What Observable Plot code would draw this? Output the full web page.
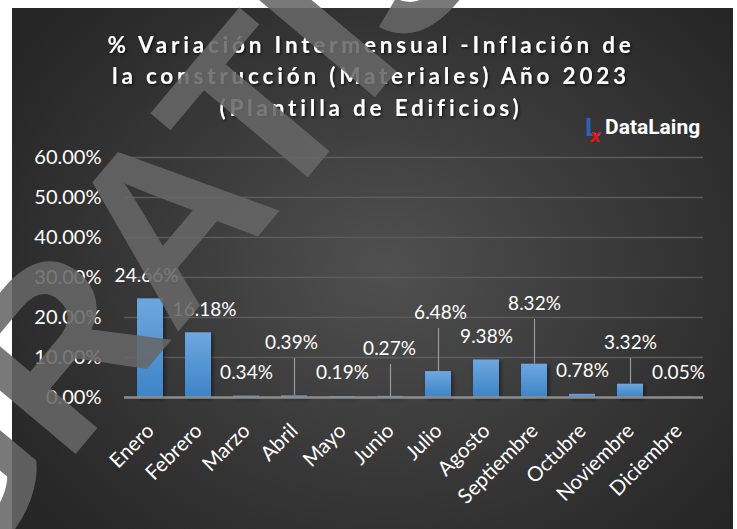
<!DOCTYPE html>
<html>
<head>
<meta charset="utf-8">
<script src="https://cdn.jsdelivr.net/npm/d3@7"></script>
<script src="https://cdn.jsdelivr.net/npm/@observablehq/plot@0.6"></script>
<style>
  html, body { margin: 0; padding: 0; background: #ffffff; }
  #wrap { position: relative; width: 737px; height: 529px; overflow: hidden; background: #ffffff; }
  #panel { position: absolute; left: 12px; top: 8px; width: 721px; height: 521px;
    background: radial-gradient(ellipse 62% 72% at 52% 50%, #505050 0%, #3c3c3c 45%, #262626 100%); }
  #chart { position: absolute; left: 0; top: 0; }
</style>
</head>
<body>
<div id="wrap"><div id="panel"></div><div id="chart"></div></div>
<script>
// ---- data ----
const months = ["Enero","Febrero","Marzo","Abril","Mayo","Junio","Julio","Agosto","Septiembre","Octubre","Noviembre","Diciembre"];
const values = [24.66, 16.18, 0.34, 0.39, 0.19, 0.27, 6.48, 9.38, 8.32, 0.78, 3.32, 0.05];
// data-label placement (in % units of the y axis) and horizontal nudge
const labelY = [30.5, 22, 6.25, 13.75, 6.25, 12.25, 21.25, 15.25, 23.5, 6.75, 13.75, 6.25];
const labelDx = [-4, 6, 0, -3, 0, -1, 2, 0, 0, 0, 0, 0];
const yTicks = [0, 10, 20, 30, 40, 50, 60];
const titleLines = ["% Variación Intermensual -Inflación de", "la construcción (Materiales) Año 2023", "(Plantilla de Edificios)"];

const data = months.map((m, i) => ({month: m, value: values[i], labelY: labelY[i], dx: labelDx[i]}));
const leaders = data.filter(d => d.labelY - d.value > 8);
const fmt = v => v.toFixed(2) + "%";
const FONT = "Lato, 'Open Sans', sans-serif";

const plot = Plot.plot({
  width: 737,
  height: 529,
  marginLeft: 124,
  marginRight: 34,
  marginTop: 157,
  marginBottom: 132,
  style: {background: "transparent", color: "#ffffff", fontFamily: FONT},
  x: {type: "band", domain: months, paddingInner: 0.46, paddingOuter: 0.23, axis: null},
  y: {domain: [0, 60], axis: null},
  marks: [
    Plot.gridY(yTicks.filter(t => t > 0), {stroke: "#5c5c5c", strokeOpacity: 1, strokeWidth: 1.5}),
    Plot.barY(data, {x: "month", y: "value", fill: "url(#barGrad)"}),
    Plot.ruleY([0], {stroke: "#8c8c8c", strokeWidth: 2.5}),
    Plot.ruleX(leaders, {x: "month", y1: "value", y2: d => d.labelY - 4, stroke: "#9a9a9a", strokeWidth: 1.2}),
    ...data.map(d => Plot.text([d], {x: "month", y: "labelY", text: e => fmt(e.value), dx: d.dx,
      fill: "#ffffff", fontSize: 19, lineAnchor: "middle"})),
    Plot.axisY({ticks: yTicks, tickFormat: fmt, tickSize: 0, tickPadding: 23, fontSize: 20, fill: "#ffffff", label: null}),
    Plot.text(months, {x: d => d, frameAnchor: "bottom", rotate: -45, textAnchor: "end", lineAnchor: "middle",
      dx: 0, dy: 30, fill: "#ffffff", fontSize: 20.5})
  ]
});
document.getElementById("chart").appendChild(plot);

// ---- decorations: gradient, shadows, title, logo, watermark ----
const svg = d3.select(plot);
const defs = svg.insert("defs", ":first-child");
const g = defs.append("linearGradient").attr("id", "barGrad").attr("x1", 0).attr("y1", 0).attr("x2", 0).attr("y2", 1);
g.append("stop").attr("offset", "0%").attr("stop-color", "#6ea7df");
g.append("stop").attr("offset", "100%").attr("stop-color", "#3d84c8");
const sh = defs.append("filter").attr("id", "barShadow").attr("x", "-30%").attr("y", "-10%").attr("width", "160%").attr("height", "130%");
sh.append("feDropShadow").attr("dx", 2).attr("dy", 2).attr("stdDeviation", 2).attr("flood-color", "#000").attr("flood-opacity", 0.45);
const ts = defs.append("filter").attr("id", "txtShadow").attr("x", "-5%").attr("y", "-20%").attr("width", "110%").attr("height", "140%");
ts.append("feDropShadow").attr("dx", 1.5).attr("dy", 1.5).attr("stdDeviation", 1.2).attr("flood-color", "#000").attr("flood-opacity", 0.6);
svg.selectAll("g[aria-label='bar']").attr("filter", "url(#barShadow)");

const title = svg.append("g").attr("filter", "url(#txtShadow)");
titleLines.forEach((t, i) => {
  title.append("text").attr("x", 371).attr("y", 45 + i * 31.5).attr("dy", "0.35em")
    .attr("text-anchor", "middle").attr("fill", "#ffffff").attr("font-family", FONT)
    .attr("font-weight", "bold").attr("font-size", 22.5).attr("letter-spacing", 3.8).text(t);
});

const logo = svg.append("g").attr("text-anchor", "start");
logo.append("text").attr("x", 585).attr("y", 136).attr("fill", "#2f62b5").attr("font-family", "'Liberation Sans', sans-serif")
  .attr("font-weight", "bold").attr("font-size", 26).text("L");
logo.append("text").attr("x", 590).attr("y", 142).attr("fill", "#e0161b").attr("font-family", "'DejaVu Sans', sans-serif")
  .attr("font-style", "italic").attr("font-weight", "bold").attr("font-size", 17).text("x");
logo.append("text").attr("x", 605).attr("y", 134).attr("fill", "#ffffff").attr("font-family", "Roboto, sans-serif")
  .attr("font-weight", "bold").attr("font-size", 21).text("DataLaing");

svg.append("text").attr("transform", "translate(-52,606) rotate(-50)").attr("text-anchor", "start")
  .attr("fill", "#666666").attr("fill-opacity", 0.88)
  .attr("font-family", "'Liberation Sans', sans-serif").attr("font-weight", "bold").attr("font-size", 235)
  .text("GRATIS");
</script>
</body>
</html>
